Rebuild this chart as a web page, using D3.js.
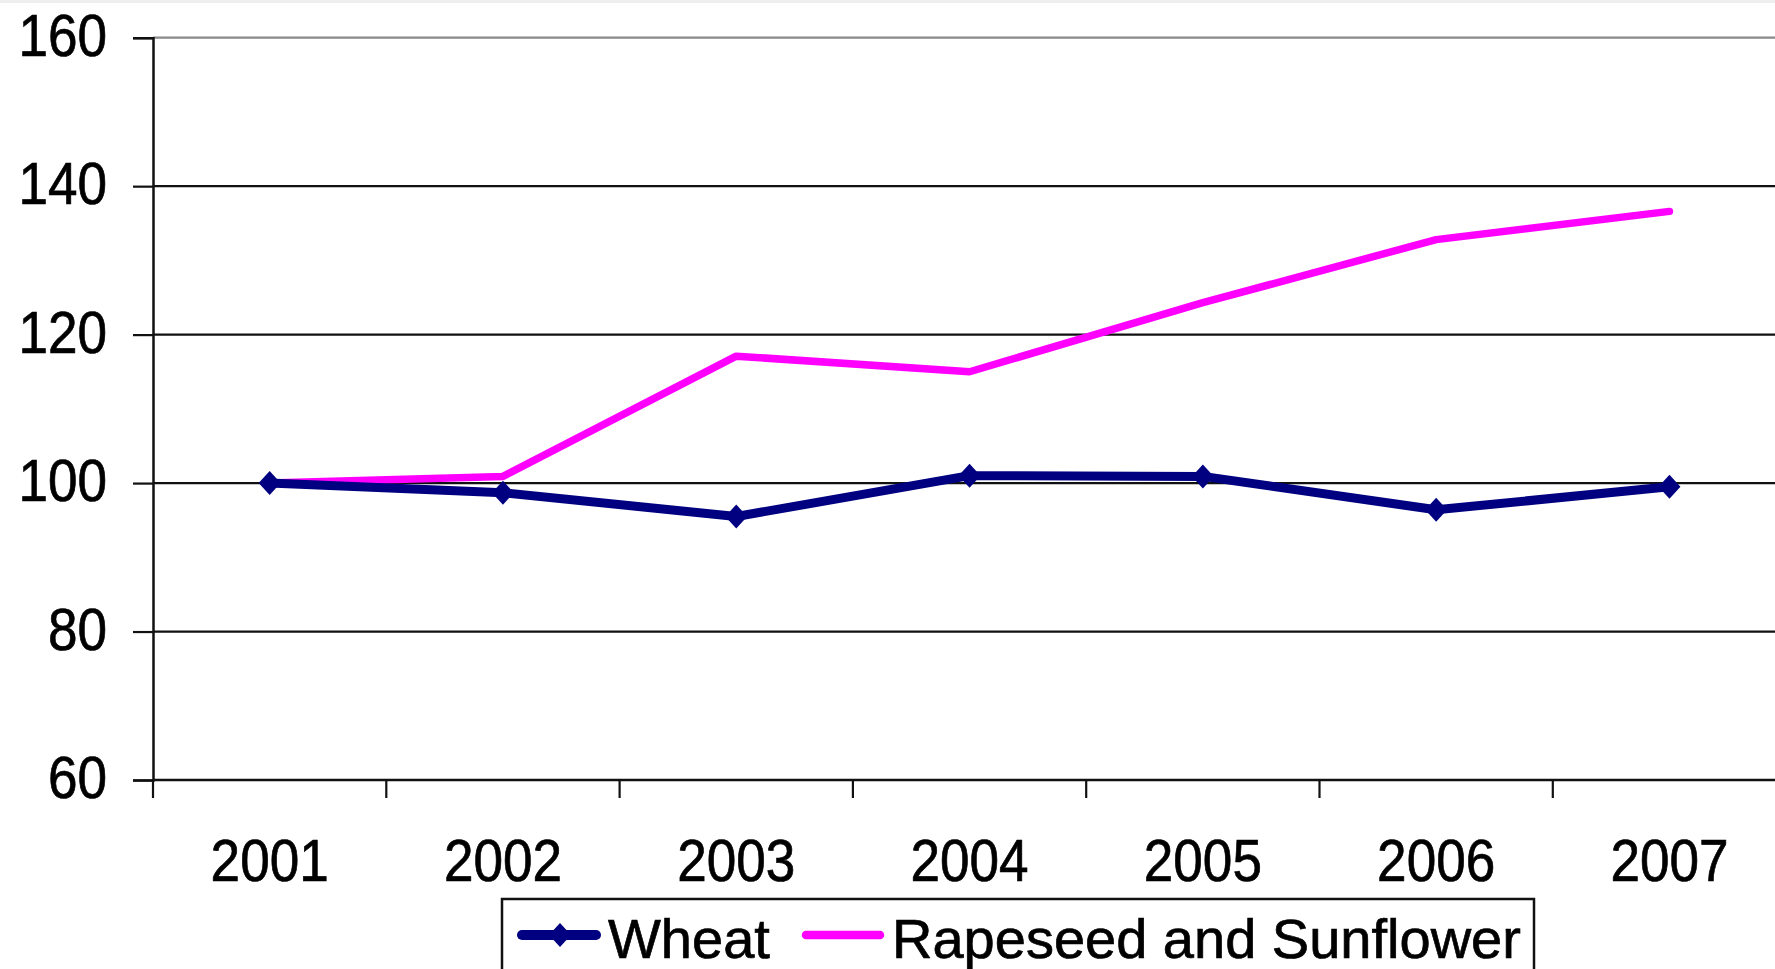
<!DOCTYPE html>
<html>
<head>
<meta charset="utf-8">
<script src="https://cdn.jsdelivr.net/npm/d3@7"></script>
<style>
  html, body { margin: 0; padding: 0; background: #fff; overflow: hidden; }
  svg { display: block; }
  text { font-family: "Liberation Sans", Arial, sans-serif; fill: #000; stroke: #000; stroke-width: 0.7px; }
</style>
</head>
<body>
<svg id="canvas" width="1775" height="969"></svg>
<script>
'use strict';

/* data */
const years = ['2001', '2002', '2003', '2004', '2005', '2006', '2007'];
const wheat = [100, 98.7, 95.5, 101.0, 100.9, 96.4, 99.5];
const rapeseed = [100, 100.9, 117.1, 115.0, 124.3, 132.8, 136.6];
const yTicks = [60, 80, 100, 120, 140, 160];
const seriesNames = ['Wheat', 'Rapeseed and Sunflower'];
const seriesColors = ['#000080', '#ff00ff'];

const W = 1775, H = 969;
/* plot area: the last band runs past the right edge, as in the original */
const plot = {left: 153, top: 37.7, bottom: 780, step: 233.3};
/* axis labels are slightly narrow in the original */
const labelSize = 59, labelSqueeze = 0.9;

const svg = d3.select('svg#canvas');

/* faint strip at the very top of the picture */
svg.append('rect').attr('x', 0).attr('y', 0).attr('width', W).attr('height', 3).attr('fill', '#eeeeee');

const x = d3.scaleBand()
  .domain(years)
  .range([plot.left, plot.left + plot.step * years.length])
  .paddingInner(0).paddingOuter(0);

const y = d3.scaleLinear()
  .domain([60, 160])
  .range([plot.bottom, plot.top]);

/* horizontal gridlines */
svg.append('g').attr('id', 'grid')
  .selectAll('line')
  .data(yTicks.filter(d => d !== 60))
  .join('line')
    .attr('x1', plot.left).attr('x2', W)
    .attr('y1', d => y(d)).attr('y2', d => y(d))
    .attr('stroke', d => d === 160 ? '#8a8a8a' : '#111')
    .attr('stroke-width', 2.2);

/* left axis: d3 draws the ticks, labels are placed by hand to squeeze them */
const yAxis = d3.axisLeft(y).tickValues(yTicks).tickSize(20).tickFormat('');
const gy = svg.append('g')
  .attr('id', 'left-axis')
  .attr('transform', 'translate(' + plot.left + ',0)')
  .call(yAxis);
gy.select('.domain').attr('stroke', '#111').attr('stroke-width', 2.5);
gy.selectAll('.tick line').attr('stroke', '#111').attr('stroke-width', 2.2);

svg.append('g').attr('id', 'left-labels')
  .selectAll('g')
  .data(yTicks)
  .join('g')
    .attr('transform', d => 'translate(107,' + (y(d) + 18) + ')')
  .append('text')
    .attr('transform', 'scale(' + labelSqueeze + ',1)')
    .attr('text-anchor', 'end')
    .style('font-size', labelSize + 'px')
    .text(d => d);

/* bottom axis: labels centred in bands, ticks at band edges */
const gx = svg.append('g')
  .attr('id', 'bottom-axis')
  .attr('transform', 'translate(0,' + plot.bottom + ')');
gx.append('line')
  .attr('x1', plot.left).attr('x2', W)
  .attr('y1', 0).attr('y2', 0)
  .attr('stroke', '#111').attr('stroke-width', 2.5);
gx.selectAll('line.edge')
  .data(years.map(d => x(d)))
  .join('line')
    .attr('class', 'edge')
    .attr('x1', d => d).attr('x2', d => d)
    .attr('y1', 0).attr('y2', 18)
    .attr('stroke', '#111').attr('stroke-width', 2.2);
gx.selectAll('g.label')
  .data(years)
  .join('g')
    .attr('class', 'label')
    .attr('transform', d => 'translate(' + (x(d) + x.bandwidth() / 2) + ',101)')
  .append('text')
    .attr('transform', 'scale(' + labelSqueeze + ',1)')
    .attr('text-anchor', 'middle')
    .style('font-size', labelSize + 'px')
    .text(d => d);

/* series */
const cx = (d, i) => x(years[i]) + x.bandwidth() / 2;
const line = d3.line().x(cx).y(d => y(d));

svg.append('path')
  .datum(rapeseed)
  .attr('fill', 'none')
  .attr('stroke', seriesColors[1])
  .attr('stroke-width', 7.5)
  .attr('stroke-linejoin', 'round')
  .attr('stroke-linecap', 'round')
  .attr('d', line);

svg.append('path')
  .datum(wheat)
  .attr('fill', 'none')
  .attr('stroke', seriesColors[0])
  .attr('stroke-width', 9)
  .attr('stroke-linejoin', 'round')
  .attr('d', line);

const diamond = 'M0,-12L11,0L0,12L-11,0Z';
svg.append('g').selectAll('path')
  .data(wheat)
  .join('path')
    .attr('transform', (d, i) => 'translate(' + cx(d, i) + ',' + y(d) + ')')
    .attr('d', diamond)
    .attr('fill', seriesColors[0]);

/* legend box, cut off by the bottom edge */
const legend = svg.append('g').attr('id', 'legend');
legend.append('rect')
  .attr('x', 502).attr('y', 899)
  .attr('width', 1032).attr('height', 100)
  .attr('fill', '#fff')
  .attr('stroke', '#111').attr('stroke-width', 2.5);

const items = [
  {name: seriesNames[0], color: seriesColors[0], x0: 522, width: 10, marker: true},
  {name: seriesNames[1], color: seriesColors[1], x0: 806, width: 8.5, marker: false}
];
items.forEach(it => {
  legend.append('line')
    .attr('x1', it.x0).attr('x2', it.x0 + 74)
    .attr('y1', 935).attr('y2', 935)
    .attr('stroke', it.color).attr('stroke-width', it.width)
    .attr('stroke-linecap', 'round');
  if (it.marker) {
    legend.append('path')
      .attr('transform', 'translate(' + (it.x0 + 38) + ',935)')
      .attr('d', diamond)
      .attr('fill', it.color);
  }
  legend.append('text')
    .attr('x', it.x0 + 86)
    .attr('y', 958)
    .style('font-size', '56px')
    .text(it.name);
});
</script>
</body>
</html>
